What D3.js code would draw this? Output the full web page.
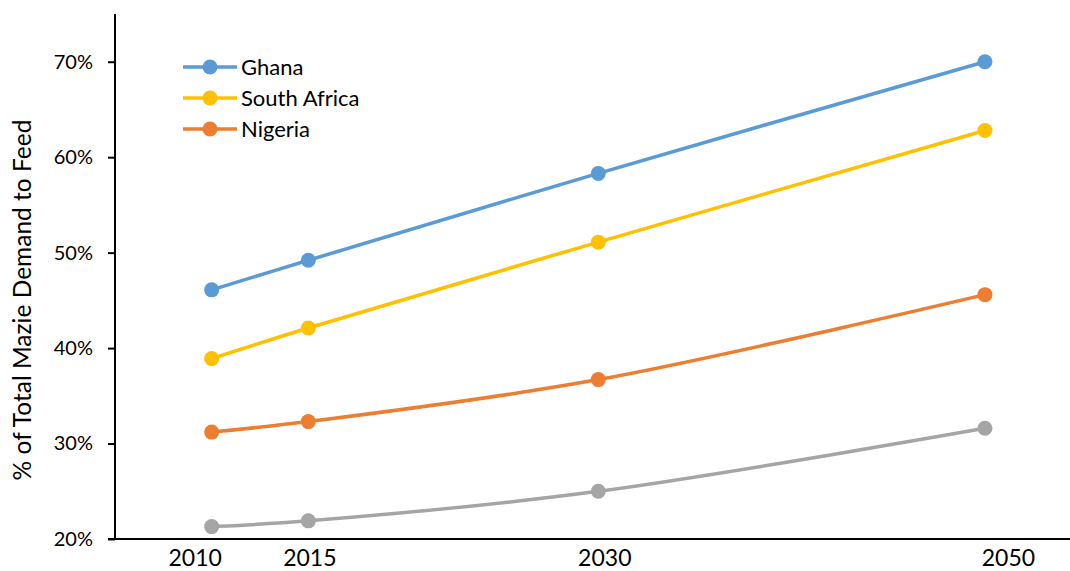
<!DOCTYPE html>
<html><head><meta charset="utf-8">
<script src="https://cdn.jsdelivr.net/npm/d3@7"></script>
<style>body{margin:0;background:#fff;} svg{display:block;font-family:Lato, "Open Sans", sans-serif;}</style>
</head><body>
<svg id="c" width="1070" height="571"></svg>
<script>
const years = [2010, 2015, 2030, 2050];
const seriesNames = ["Ghana", "South Africa", "Nigeria", "Other"];
const ghana = [0.461, 0.492, 0.583, 0.700];
const southAfrica = [0.389, 0.421, 0.511, 0.628];
const nigeria = [0.312, 0.323, 0.367, 0.456];
const other = [0.213, 0.219, 0.250, 0.316];
const yTicks = [0.2, 0.3, 0.4, 0.5, 0.6, 0.7];
const legendNames = ["Ghana", "South Africa", "Nigeria"];
const colors = ["#5B9BD5", "#FFC000", "#ED7D31", "#A5A5A5"];
const allValues = [ghana, southAfrica, nigeria, other];

// layout tweak: horizontal nudge of x tick labels as rendered in the reference
const labelNudge = {2010: -17, 2015: 1, 2030: 6, 2050: 23};

const svg = d3.select("#c");
const x = d3.scaleLinear().domain([2005, 2054.4]).range([115, 1070]);
const y = d3.scaleLinear().domain([0.2, 0.75]).range([539, 14]);

const yAxis = svg.append("g").attr("transform", "translate(115,0)")
  .call(d3.axisLeft(y).tickValues(yTicks).tickFormat(d3.format(".0%")).tickSize(7).tickPadding(15));
yAxis.select(".domain").attr("stroke", "#000").attr("stroke-width", 2).attr("d", `M0,${y(0.75)}V${y(0.2)}`);
yAxis.selectAll(".tick line").attr("stroke", "#000").attr("stroke-width", 2);
yAxis.selectAll(".tick text").attr("font-size", 20).attr("fill", "#000").attr("font-family", "Lato, sans-serif");

const xAxis = svg.append("g").attr("transform", "translate(0,539)")
  .call(d3.axisBottom(x).tickValues(years).tickFormat(d3.format("d")).tickSize(0).tickPadding(11));
xAxis.select(".domain").attr("stroke", "#000").attr("stroke-width", 2).attr("d", `M108,0H1070`);
xAxis.selectAll(".tick text").attr("font-size", 23).attr("fill", "#000").attr("font-family", "Lato, sans-serif")
  .attr("dx", d => labelNudge[d] || 0);

svg.append("text").attr("transform", "translate(31,300) rotate(-90)")
  .attr("text-anchor", "middle").attr("font-size", 24.5).attr("fill", "#000")
  .text("% of Total Mazie Demand to Feed");

const line = d3.line().x((d, i) => x(years[i])).y(d => y(d)).curve(d3.curveCatmullRom.alpha(0.5));

allValues.forEach((vals, k) => {
  svg.append("path").attr("d", line(vals)).attr("fill", "none")
    .attr("stroke", colors[k]).attr("stroke-width", 3.5);
  svg.selectAll(null).data(vals).enter().append("circle")
    .attr("cx", (d, i) => x(years[i])).attr("cy", d => y(d)).attr("r", 7.5)
    .attr("fill", colors[k]);
});

legendNames.forEach((n, k) => {
  const ly = 67 + k * 31;
  svg.append("line").attr("x1", 183).attr("x2", 237).attr("y1", ly).attr("y2", ly)
    .attr("stroke", colors[k]).attr("stroke-width", 3.5);
  svg.append("circle").attr("cx", 210).attr("cy", ly).attr("r", 7.5).attr("fill", colors[k]);
  svg.append("text").attr("x", 241).attr("y", ly).attr("dy", "0.35em")
    .attr("font-size", 22).attr("fill", "#000").text(n);
});
</script>
</body></html>
